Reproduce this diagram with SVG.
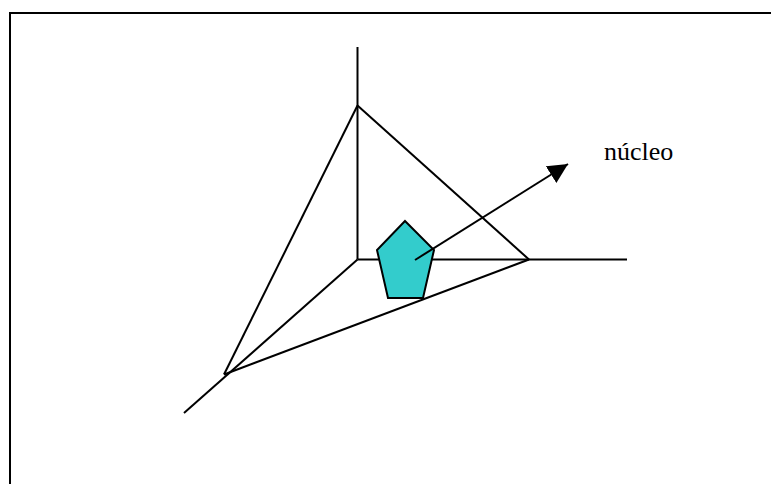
<svg xmlns="http://www.w3.org/2000/svg" width="771" height="484" viewBox="0 0 771 484">
<style>
.l{fill:none;stroke:#000;stroke-width:2}
.p{fill:#33cccc;stroke:#000;stroke-width:2}
.f{fill:none;stroke:#000;stroke-width:2}
.t{font-family:"Liberation Serif",serif;font-size:26px;fill:#000}
</style>
<defs><marker id="a" markerUnits="userSpaceOnUse" markerWidth="22" markerHeight="22" refX="20" refY="10" orient="auto"><path d="M0 0L20 10L0 20Z" fill="#000"/></marker></defs>
<rect width="771" height="484" fill="#fff"/>
<g id="frame"><path class="f" d="M10 484V13H771"/></g>
<g id="connectors">
<path class="l" d="M357.500 47V259.500"/>
<path class="l" d="M357.500 259.500H627"/>
<path class="l" d="M357.500 259.500L184 413"/>
<path class="l" d="M357.500 105.500L529 259.500"/>
<path class="l" d="M357.500 105.500L224 374.500"/>
<path class="l" d="M224 374.500L529 259.500"/>
</g>
<g id="pentagon"><path class="p" d="M405 221L434 250L423 298H388L377 250Z"/></g>
<g id="arrow"><path class="l" d="M415 260L568 164" marker-end="url(#a)"/></g>
<g id="label"><text class="t" x="604" y="160">núcleo</text></g>
</svg>
